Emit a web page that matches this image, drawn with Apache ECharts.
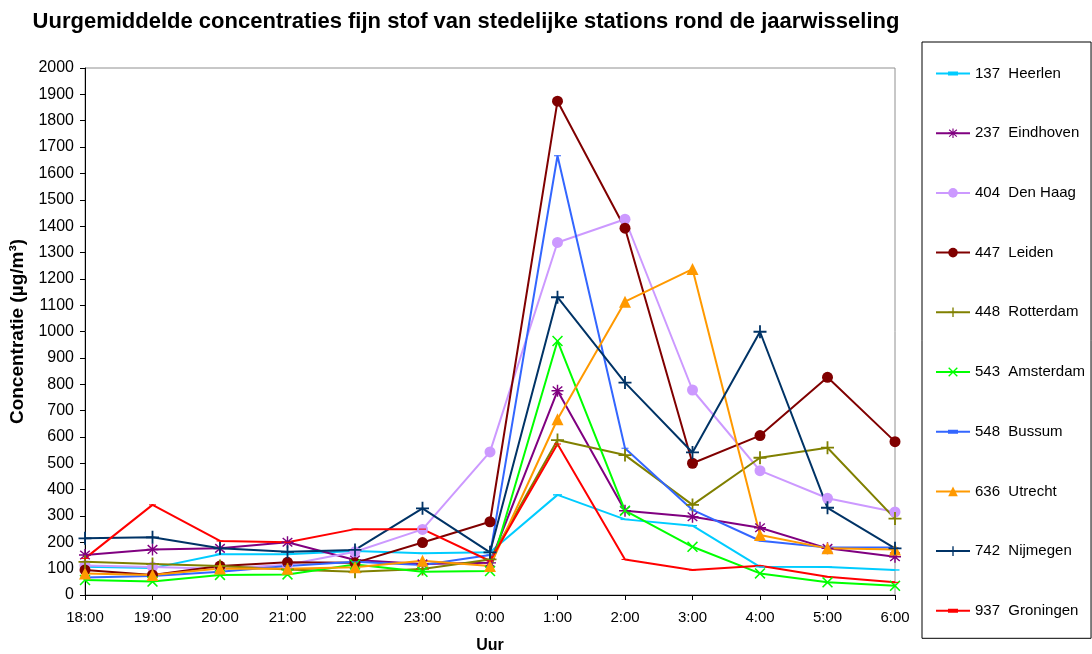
<!DOCTYPE html>
<html>
<head>
<meta charset="utf-8">
<script src="https://cdn.jsdelivr.net/npm/echarts@6/dist/echarts.min.js"></script>
<style>
html,body{margin:0;padding:0;background:#fff;}
#chart{width:1092px;height:654px;}
</style>
</head>
<body>
<div id="chart"></div>
<script>
const categories = ['18:00','19:00','20:00','21:00','22:00','23:00','0:00','1:00','2:00','3:00','4:00','5:00','6:00'];
const heerlen   = [107, 102, 155, 155, 167, 158, 162, 380, 287, 263, 107, 106, 95];
const eindhoven = [152, 173, 177, 200, 133, 118, 122, 775, 320, 297, 255, 177, 145];
const denHaag   = [112, 106, 100, 115, 164, 249, 543, 1338, 1426, 778, 472, 367, 315];
const leiden    = [95, 76, 110, 124, 122, 199, 278, 1874, 1392, 500, 605, 826, 582];
const rotterdam = [126, 118, 110, 97, 88, 99, 135, 588, 531, 342, 521, 559, 290];
const amsterdam = [57, 51, 76, 78, 116, 88, 91, 964, 320, 183, 82, 48, 35];
const bussum    = [66, 72, 88, 110, 126, 114, 152, 1667, 557, 323, 206, 180, 180];
const utrecht   = [82, 76, 101, 100, 105, 130, 110, 667, 1113, 1237, 228, 177, 173];
const nijmegen  = [215, 219, 177, 164, 171, 329, 162, 1130, 806, 541, 999, 331, 177];
const groningen = [139, 342, 205, 200, 250, 250, 129, 573, 135, 95, 111, 69, 48];
const seriesNames = ['137  Heerlen','237  Eindhoven','404  Den Haag','447  Leiden','448  Rotterdam','543  Amsterdam','548  Bussum','636  Utrecht','742  Nijmegen','937  Groningen'];
const yTicks = {min: 0, max: 2000, interval: 100};

const PLUS = 'path://M4.3,0 L5.7,0 L5.7,4.3 L10,4.3 L10,5.7 L5.7,5.7 L5.7,10 L4.3,10 L4.3,5.7 L0,5.7 L0,4.3 L4.3,4.3 Z';
const CROSS = 'path://M0,1 L1,0 L5,4 L9,0 L10,1 L6,5 L10,9 L9,10 L5,6 L1,10 L0,9 L4,5 Z';
const STAR = 'path://M4.4,0 L5.6,0 L5.6,3.6 L8.6,1.0 L9.4,1.9 L6.4,4.4 L10,4.4 L10,5.6 L6.4,5.6 L9.4,8.1 L8.6,9.0 L5.6,6.4 L5.6,10 L4.4,10 L4.4,6.4 L1.4,9.0 L0.6,8.1 L3.6,5.6 L0,5.6 L0,4.4 L3.6,4.4 L0.6,1.9 L1.4,1.0 L4.4,3.6 Z';
const DASH = 'path://M0,0 L10,0 L10,3.5 L0,3.5 Z';
const DASH_LEGEND = 'path://M0,5 L34,5 L34,7 L0,7 Z M12,4 L22,4 L22,8 L12,8 Z';

const defs = [
  {data: heerlen,   color: '#00ccff', symbol: DASH, size: [9,4], legendIcon: DASH_LEGEND},
  {data: eindhoven, color: '#800080', symbol: STAR, size: 12},
  {data: denHaag,   color: '#cc99ff', symbol: 'circle', size: 11},
  {data: leiden,    color: '#800000', symbol: 'circle', size: 11},
  {data: rotterdam, color: '#808000', symbol: PLUS, size: 13},
  {data: amsterdam, color: '#00ff00', symbol: CROSS, size: 11},
  {data: bussum,    color: '#3366ff', symbol: DASH, size: [7,3], legendIcon: DASH_LEGEND},
  {data: utrecht,   color: '#ff9900', symbol: 'triangle', size: 12},
  {data: nijmegen,  color: '#003366', symbol: PLUS, size: 13},
  {data: groningen, color: '#ff0000', symbol: DASH, size: [7,3], legendIcon: DASH_LEGEND}
];

const series = defs.map((d, i) => ({
  name: seriesNames[i],
  type: 'line',
  data: d.data,
  symbol: d.symbol,
  symbolSize: d.size,
  symbolKeepAspect: true,
  showAllSymbol: true,
  lineStyle: {color: d.color, width: 2},
  itemStyle: {color: d.color},
  emphasis: {disabled: true}
}));

const legendData = seriesNames.map((n, i) => defs[i].legendIcon ? {name: n, icon: defs[i].legendIcon} : {name: n});

const chart = echarts.init(document.getElementById('chart'));
chart.setOption({
  animation: false,
  backgroundColor: '#ffffff',
  textStyle: {fontFamily: 'Liberation Sans, Arial, sans-serif', color: '#000'},
  title: {
    text: 'Uurgemiddelde concentraties fijn stof van stedelijke stations rond de jaarwisseling',
    left: 461, top: 6, textAlign: 'center',
    textStyle: {fontFamily: 'Liberation Sans, Arial, sans-serif', fontSize: 22, fontWeight: 'bold', color: '#000'}
  },
  grid: {left: 85, right: 197, top: 68, bottom: 59, outerBoundsMode: 'none', containLabel: false,
         show: true, borderColor: '#909090', borderWidth: 1, backgroundColor: '#fff'},
  legend: {
    orient: 'vertical',
    left: 922, top: 42,
    padding: [24, 6, 20, 13],
    itemWidth: 34, itemHeight: 12,
    itemGap: 44.7,
    borderColor: '#000', borderWidth: 1,
    textStyle: {fontSize: 15, color: '#000', fontFamily: 'Liberation Sans, Arial, sans-serif', padding: [0,0,0,0]},
    data: legendData,
    selectedMode: false
  },
  xAxis: {
    type: 'category', data: categories, boundaryGap: false,
    name: 'Uur', nameLocation: 'middle', nameGap: 43,
    nameTextStyle: {fontSize: 16, fontWeight: 'bold', color: '#000'},
    axisLine: {lineStyle: {color: '#000', width: 1}},
    axisTick: {show: true, length: 5, lineStyle: {color: '#000'}},
    axisLabel: {fontSize: 15, color: '#000', margin: 15},
    splitLine: {show: false}
  },
  yAxis: {
    type: 'value', min: yTicks.min, max: yTicks.max, interval: yTicks.interval,
    name: 'Concentratie (µg/m³)', nameLocation: 'middle', nameGap: 56,
    nameTextStyle: {fontSize: 19, fontWeight: 'bold', color: '#000'},
    axisLine: {show: true, lineStyle: {color: '#000', width: 1}},
    axisTick: {show: true, length: 5, lineStyle: {color: '#000'}},
    axisLabel: {fontSize: 16, color: '#000', margin: 11, formatter: v => String(v)},
    splitLine: {show: false}
  },
  series: series
});
</script>
</body>
</html>
